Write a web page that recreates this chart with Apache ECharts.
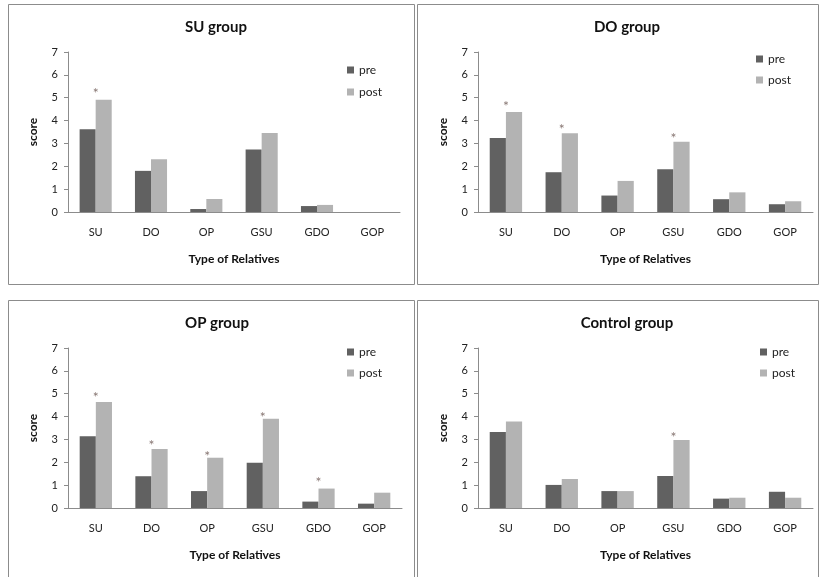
<!DOCTYPE html>
<html>
<head>
<meta charset="utf-8">
<script src="https://cdn.jsdelivr.net/npm/echarts@6/dist/echarts.min.js"></script>
<style>html,body{margin:0;padding:0;background:#fff;}#c{width:820px;height:577px;}</style>
</head>
<body>
<div id="c"></div>
<script>
var categories = ['SU','DO','OP','GSU','GDO','GOP'];
var panelTitles = ['SU group','DO group','OP group','Control group'];
var yTicks = [0,1,2,3,4,5,6,7];

var suPre  = [3.62, 1.80, 0.13, 2.73, 0.26, 0];
var suPost = [4.91, 2.31, 0.57, 3.46, 0.31, 0];
var suStars = [['SU', 5.38]];

var doPre  = [3.24, 1.74, 0.72, 1.87, 0.56, 0.34];
var doPost = [4.38, 3.45, 1.36, 3.07, 0.86, 0.47];
var doStars = [['SU', 4.79], ['DO', 3.77], ['GSU', 3.39]];

var opPre  = [3.14, 1.39, 0.74, 1.98, 0.28, 0.19];
var opPost = [4.64, 2.58, 2.20, 3.91, 0.85, 0.67];
var opStars = [['SU', 5.0], ['DO', 2.92], ['OP', 2.44], ['GSU', 4.14], ['GDO', 1.27]];

var ctPre  = [3.33, 1.01, 0.74, 1.40, 0.41, 0.71];
var ctPost = [3.78, 1.27, 0.74, 2.97, 0.45, 0.45];
var ctStars = [['GSU', 3.24]];

var preData = [suPre, doPre, opPre, ctPre];
var postData = [suPost, doPost, opPost, ctPost];
var starData = [suStars, doStars, opStars, ctStars];

var layout = [
  {gl:68, gt:52, gw:332, gh:160, tx:211, ty:15, lx:342, ly:59, lg:10, bx:8.5, by:4.5, bw:406, bh:280},
  {gl:478, gt:52, gw:335, gh:160, tx:622, ty:15, lx:751, ly:48, lg:9, bx:417.5, by:4.5, bw:401, bh:280},
  {gl:68, gt:348, gw:334, gh:160, tx:212, ty:311, lx:342, ly:341, lg:9, bx:8.5, by:300.5, bw:406, bh:300},
  {gl:478, gt:348, gw:335, gh:160, tx:622, ty:311, lx:755, ly:341, lg:9, bx:417.5, by:300.5, bw:401, bh:300}
];

var FONT = 'Lato, "Open Sans", sans-serif';
var option = {
  animation: false,
  backgroundColor: '#fff',
  title: [], legend: [], grid: [], xAxis: [], yAxis: [], series: [], graphic: []
};

layout.forEach(function(L, i){
  option.graphic.push({type:'rect', shape:{x:L.bx, y:L.by, width:L.bw, height:L.bh},
    style:{fill:'none', stroke:'#8c8c8c', lineWidth:1}, silent:true, z:-1});
  option.title.push({text: panelTitles[i], left: L.tx, top: L.ty, textAlign: 'center',
    textStyle:{fontFamily:FONT, fontSize:15, fontWeight:'bold', color:'#111'}});
  option.legend.push({data:['pre','post'], orient:'vertical', left:L.lx, top:L.ly,
    itemWidth:7, itemHeight:7, itemGap:L.lg, icon:'rect',
    textStyle:{fontFamily:FONT, fontSize:12, color:'#222'}});
  option.grid.push({left:L.gl, top:L.gt, width:L.gw, height:L.gh});
  option.xAxis.push({type:'category', gridIndex:i, data:categories,
    axisLine:{lineStyle:{color:'#8c8c8c'}}, axisTick:{show:false},
    axisLabel:{fontFamily:FONT, fontSize:11, color:'#222', margin:15},
    name:'Type of Relatives', nameLocation:'middle', nameGap:41,
    nameTextStyle:{fontFamily:FONT, fontSize:12, fontWeight:'bold', color:'#111'}});
  option.yAxis.push({type:'value', gridIndex:i, min:yTicks[0], max:yTicks[yTicks.length-1], interval:1,
    axisLine:{show:true, lineStyle:{color:'#8c8c8c'}}, axisTick:{show:true, length:4, lineStyle:{color:'#8c8c8c'}},
    splitLine:{show:false},
    axisLabel:{fontFamily:FONT, fontSize:11, color:'#222', margin:10},
    name:'score', nameLocation:'middle', nameGap:29, nameRotate:90,
    nameTextStyle:{fontFamily:FONT, fontSize:12, fontWeight:'bold', color:'#111'}});
  option.series.push({name:'pre', type:'bar', xAxisIndex:i, yAxisIndex:i, data:preData[i],
    barGap:'0%', barCategoryGap:'42%', itemStyle:{color:'#616161'}});
  option.series.push({name:'post', type:'bar', xAxisIndex:i, yAxisIndex:i, data:postData[i],
    barGap:'0%', barCategoryGap:'42%', itemStyle:{color:'#b3b3b3'}});
  option.series.push({name:'sig', type:'scatter', xAxisIndex:i, yAxisIndex:i, data:starData[i],
    symbol:'circle', symbolSize:1, itemStyle:{color:'rgba(0,0,0,0)'},
    label:{show:true, position:'inside', offset:[0,4], formatter:'*', fontFamily:FONT, fontSize:14, color:'#6a5550'}});
});

var chart = echarts.init(document.getElementById('c'), null, {renderer:'canvas'});
chart.setOption(option);
</script>
</body>
</html>
